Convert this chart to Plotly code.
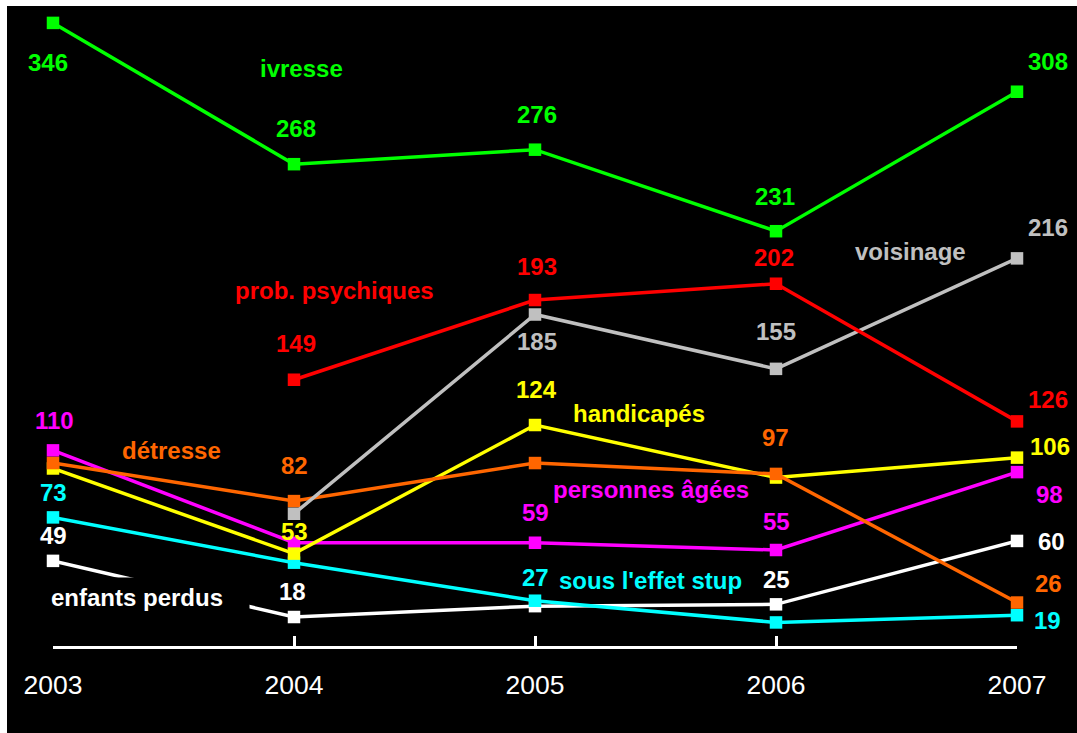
import plotly.graph_objects as go

years = [2003, 2004, 2005, 2006, 2007]

ivresse = [346, 268, 276, 231, 308]
psychiques = [None, 149, 193, 202, 126]
voisinage = [None, 75, 185, 155, 216]
handicapes = [100, 53, 124, 95, 106]
detresse = [103, 82, 103, 97, 26]
personnes_agees = [110, 59, 59, 55, 98]
effet_stup = [73, 48, 27, 15, 19]
enfants_perdus = [49, 18, 24, 25, 60]

# (name, values, colour, labelled point indices with (xshift, yshift))
series = [
    ("enfants perdus", enfants_perdus, "#FFFFFF",
     {0: (0, 25), 1: (-2, 26), 3: (0, 25), 4: (34, -1)}),
    ("sous l'effet stup", effet_stup, "#00FFFF",
     {0: (0, 25), 2: (0, 23), 4: (30, -5)}),
    ("personnes âgées", personnes_agees, "#FF00FF",
     {0: (1, 30), 2: (0, 30), 3: (0, 29), 4: (32, -22)}),
    ("handicapés", handicapes, "#FFFF00",
     {1: (0, 22), 2: (1, 36), 4: (33, 11)}),
    ("détresse", detresse, "#FF6600",
     {1: (0, 36), 3: (-1, 36), 4: (31, 19)}),
    ("voisinage", voisinage, "#C0C0C0",
     {2: (2, -27), 3: (0, 37), 4: (31, 31)}),
    ("prob. psychiques", psychiques, "#FF0000",
     {1: (2, 36), 2: (2, 34), 3: (-2, 26), 4: (31, 22)}),
    ("ivresse", ivresse, "#00FF00",
     {0: (-5, -40), 1: (2, 36), 2: (2, 35), 3: (-1, 35), 4: (31, 30)}),
]

# series-name label positions (year, value)
name_pos = {
    "ivresse": (2004.03, 320.8),
    "prob. psychiques": (2004.17, 198.5),
    "voisinage": (2006.56, 220.0),
    "handicapés": (2005.43, 130.6),
    "détresse": (2003.49, 109.7),
    "personnes âgées": (2005.48, 88.6),
    "sous l'effet stup": (2005.48, 37.9),
    "enfants perdus": (2003.35, 29.0),
}

FONT = "Liberation Sans, Arial, sans-serif"

fig = go.Figure()
annotations = []
for name, vals, col, labels in series:
    fig.add_trace(go.Scatter(
        x=years, y=vals, mode="lines+markers", name=name,
        line=dict(color=col, width=3.5),
        marker=dict(symbol="square", size=12.5, color=col),
        cliponaxis=False, connectgaps=False,
    ))
    for i, (dx, dy) in labels.items():
        annotations.append(dict(
            x=years[i], y=vals[i], xref="x", yref="y", text=str(vals[i]),
            showarrow=False, xshift=dx, yshift=dy,
            font=dict(family=FONT, size=24, color=col, weight="bold"),
            xanchor="center", yanchor="middle",
        ))
    nx, ny = name_pos[name]
    extra = {}
    if name == "enfants perdus":
        extra = dict(bgcolor="#000000", width=224, height=38, borderpad=0)
    annotations.append(dict(
        x=nx, y=ny, xref="x", yref="y", text=name, showarrow=False,
        font=dict(family=FONT, size=24, color=col, weight="bold"),
        xanchor="center", yanchor="middle", **extra,
    ))

W, H = 1077, 733
ML, MR, MT, MB = 53, 60, 20, 87
PW, PH = W - ML - MR, H - MT - MB

# black panel (white strip at top and left as in the reference)
panel = dict(
    type="rect", xref="paper", yref="paper", layer="below",
    x0=(7 - ML) / PW, x1=(W - ML) / PW,
    y0=(MT + PH - H) / PH, y1=(MT + PH - 6) / PH,
    fillcolor="#000000", line=dict(width=0),
)

fig.update_layout(
    width=W, height=H,
    margin=dict(l=ML, r=MR, t=MT, b=MB),
    paper_bgcolor="#FFFFFF", plot_bgcolor="#000000",
    showlegend=False,
    shapes=[panel],
    annotations=annotations,
    xaxis=dict(
        range=[2003, 2007], tickvals=years, ticktext=[str(y) for y in years],
        showline=True, linecolor="#FFFFFF", linewidth=3,
        ticks="inside", ticklen=10, tickwidth=3, tickcolor="#FFFFFF",
        showgrid=False, zeroline=False, ticklabelstandoff=13,
        tickfont=dict(family=FONT, size=26.5, color="#FFFFFF"),
        fixedrange=True,
    ),
    yaxis=dict(range=[2.0, 347.6], visible=False, showgrid=False, zeroline=False),
)

fig.write_html(
    "out.html",
    config={"displayModeBar": False},
    post_script="document.body.style.margin='0';document.body.style.overflow='hidden';",
)
